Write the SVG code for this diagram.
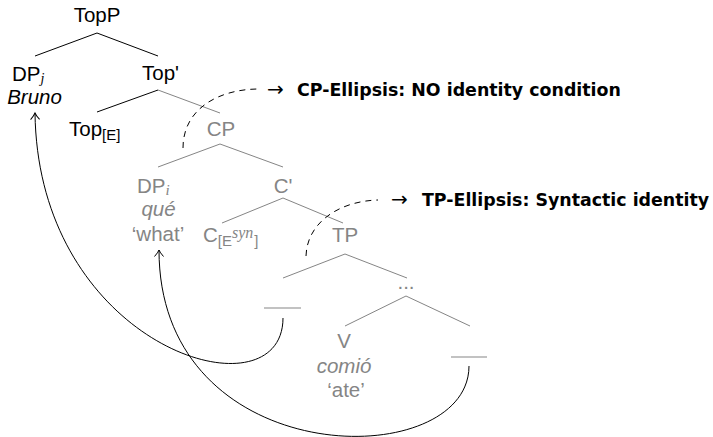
<svg xmlns="http://www.w3.org/2000/svg" width="713" height="437" viewBox="0 0 713 437">
  <style>
    .t { font-family: "Liberation Sans", Arial, sans-serif; font-size: 20.5px; fill: #000; }
    .g { fill: #858585; }
    .it { font-style: italic; }
    .mi { font-family: "Liberation Serif", "Times New Roman", serif; font-style: italic; }
    .sub { font-size: 15px; }
    .lbl { font-family: "DejaVu Sans", sans-serif; font-weight: bold; font-size: 17.4px; fill: #000; }
    .arr { font-family: "DejaVu Sans", sans-serif; font-size: 20px; fill: #000; }
    .e { stroke: #000; stroke-width: 1; fill: none; }
    .eg { stroke: #858585; stroke-width: 1; fill: none; }
    .mv { stroke: #000; stroke-width: 1; fill: none; marker-end: url(#tip); }
    .dash { stroke: #000; stroke-width: 1; fill: none; stroke-dasharray: 6 5; }
  </style>
  <defs>
    <marker id="tip" viewBox="-8 -6 10 12" markerWidth="10" markerHeight="12" refX="0" refY="0" orient="auto" markerUnits="userSpaceOnUse">
      <path d="M -6.5 -4.5 Q -2.5 -1 0 0 Q -2.5 1 -6.5 4.5" fill="none" stroke="#000" stroke-width="1"/>
    </marker>
  </defs>

  <!-- tree edges, movement arrows and ellipsis brackets -->
  <g id="connectors">
    <line class="e" x1="97" y1="33" x2="35" y2="56"/>
    <line class="e" x1="97" y1="33" x2="158" y2="56"/>
    <line class="e" x1="158" y1="90" x2="97" y2="112"/>
    <line class="eg" x1="158" y1="90" x2="220" y2="113"/>
    <line class="eg" x1="220" y1="144" x2="158" y2="167"/>
    <line class="eg" x1="220" y1="144" x2="283" y2="167"/>
    <line class="eg" x1="283" y1="198" x2="222" y2="223"/>
    <line class="eg" x1="283" y1="198" x2="343" y2="223"/>
    <line class="eg" x1="345" y1="254" x2="283" y2="278"/>
    <line class="eg" x1="345" y1="254" x2="407" y2="278"/>
    <line class="eg" x1="406" y1="296" x2="345" y2="326"/>
    <line class="eg" x1="406" y1="296" x2="470" y2="326"/>
    <!-- movement of the subject to DP_j -->
    <path class="mv" d="M 283 318 C 283 420, 38 350, 35 113"/>
    <!-- movement of the object to DP_i -->
    <path class="mv" d="M 469 366 C 469 474, 159 474, 159 250"/>
    <!-- ellipsis sites -->
    <path class="dash" d="M 183 148 C 183 108, 220 89, 259 89"/>
    <path class="dash" d="M 306 256 C 307 222, 340 201, 378 200"/>
  </g>

  <g id="n-topp"><text class="t" x="97" y="22" text-anchor="middle">TopP</text></g>
  <g id="n-dpj">
    <text class="t" x="12" y="81">DP<tspan class="mi" font-size="14" dy="2">j</tspan></text>
    <text class="t it" x="34.5" y="104" text-anchor="middle">Bruno</text>
  </g>
  <g id="n-topbar"><text class="t" x="160.5" y="80" text-anchor="middle">Top'</text></g>
  <g id="n-tope"><text class="t" x="69" y="136">Top<tspan class="sub" dy="4">[E]</tspan></text></g>
  <g id="n-cp"><text class="t g" x="221" y="136" text-anchor="middle">CP</text></g>
  <g id="n-dpi">
    <text class="t g" x="137" y="193">DP<tspan class="mi sub" dy="2">i</tspan></text>
    <text class="t g it" x="158.5" y="216" text-anchor="middle">qué</text>
    <text class="t g" x="158" y="241" text-anchor="middle">‘what’</text>
  </g>
  <g id="n-cbar"><text class="t g" x="283" y="193" text-anchor="middle">C'</text></g>
  <g id="n-c"><text class="t g" x="203" y="242">C<tspan class="sub" dy="4">[E</tspan><tspan class="mi" font-size="16" dy="-8">syn</tspan><tspan class="sub" dx="1" dy="8">]</tspan></text></g>
  <g id="n-tp"><text class="t g" x="345" y="242" text-anchor="middle">TP</text></g>
  <g id="n-gap-subj"><line class="eg" x1="264" y1="308" x2="301" y2="308"/></g>
  <g id="n-dots"><text class="t g" x="406" y="289" text-anchor="middle">...</text></g>
  <g id="n-v">
    <text class="t g" x="344" y="348" text-anchor="middle">V</text>
    <text class="t g it" x="344" y="373" text-anchor="middle">comió</text>
    <text class="t g" x="346" y="397" text-anchor="middle">‘ate’</text>
  </g>
  <g id="n-gap-obj"><line class="eg" x1="451" y1="357" x2="487" y2="357"/></g>

  <g id="note-cp">
    <text class="arr" x="267" y="96">→</text>
    <text class="lbl" x="297" y="96">CP-Ellipsis: NO identity condition</text>
  </g>
  <g id="note-tp">
    <text class="arr" x="391" y="206">→</text>
    <text class="lbl" x="422" y="206">TP-Ellipsis: Syntactic identity</text>
  </g>
</svg>
